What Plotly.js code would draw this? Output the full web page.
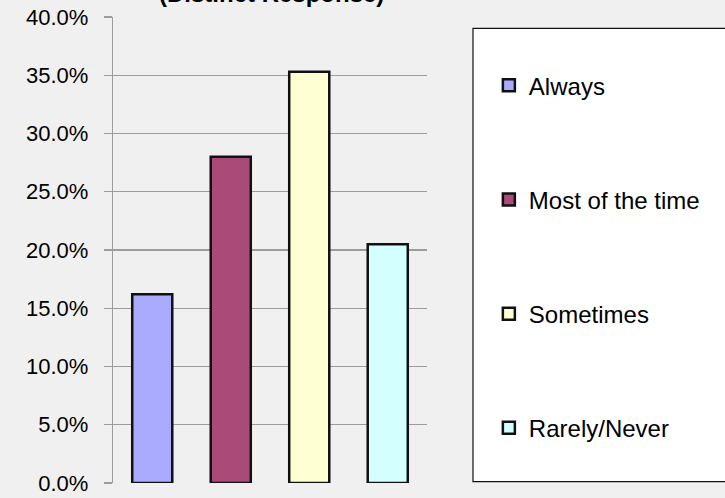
<!DOCTYPE html>
<html>
<head>
<meta charset="utf-8">
<script src="https://cdn.plot.ly/plotly-3.0.1.min.js"></script>
<style>html,body{margin:0;padding:0;background:#f0f0f0;}#chart{width:725px;height:498px;}</style>
</head>
<body>
<div id="chart"></div>
<script>
// Data
const categories = ['Always', 'Most of the time', 'Sometimes', 'Rarely/Never'];
const shares = [0.162, 0.280, 0.353, 0.205];
const barColors = ['#aaaaff', '#aa4a78', '#ffffd4', '#d4ffff'];
const yTickVals = [0, 0.05, 0.10, 0.15, 0.20, 0.25, 0.30, 0.35, 0.40];
const titleText = '(Distinct Response)';

const FONT = 'Liberation Sans, Arial, sans-serif';

const traces = categories.map((c, i) => ({
  type: 'bar',
  name: c,
  x: [c],
  y: [shares[i]],
  legendgroup: 'g' + i,
  marker: {color: barColors[i], line: {color: '#111111', width: 2.5}},
  hoverinfo: 'none'
}));

const layout = {
  width: 725, height: 498,
  paper_bgcolor: '#f0f0f0',
  plot_bgcolor: '#f0f0f0',
  margin: {l: 113, r: 298, t: 16.7, b: 14.7, pad: 0},
  barmode: 'overlay',
  bargap: 0.49,
  font: {family: FONT, color: '#000', size: 22},
  xaxis: {
    type: 'category',
    categoryorder: 'array', categoryarray: categories,
    showgrid: false, showticklabels: false, ticks: '', showline: false, zeroline: false
  },
  yaxis: {
    range: [0, 0.4],
    tickvals: yTickVals,
    tickformat: '.1%',
    showgrid: true, gridcolor: '#9c9c9c', gridwidth: 1.3,
    showline: true, linecolor: '#9c9c9c', linewidth: 1.3,
    ticks: 'outside', ticklen: 8, tickcolor: '#9c9c9c', tickwidth: 1.3,
    ticklabelstandoff: 11,
    zeroline: false,
    tickfont: {family: FONT, size: 22, color: '#000'}
  },
  showlegend: true,
  legend: {
    x: 1.197, xanchor: 'left', y: 0.901, yanchor: 'top',
    bgcolor: 'rgba(0,0,0,0)', borderwidth: 0,
    traceorder: 'grouped', tracegroupgap: 80,
    font: {family: FONT, size: 24, color: '#000'}
  },
  shapes: [{
    type: 'rect', xref: 'paper', yref: 'paper',
    x0: 1.1465, x1: 2.0, y0: 0.0028, y1: 0.9758,
    fillcolor: '#ffffff', line: {color: '#111111', width: 1.2}, layer: 'below'
  }],
  annotations: [{
    text: '<b>' + titleText + '</b>',
    xref: 'paper', yref: 'paper', x: 0.506, y: 1.051,
    xanchor: 'center', yanchor: 'middle', showarrow: false,
    font: {family: FONT, size: 24, color: '#000'}
  }]
};

Plotly.newPlot('chart', traces, layout, {displayModeBar: false, staticPlot: true});
</script>
</body>
</html>
